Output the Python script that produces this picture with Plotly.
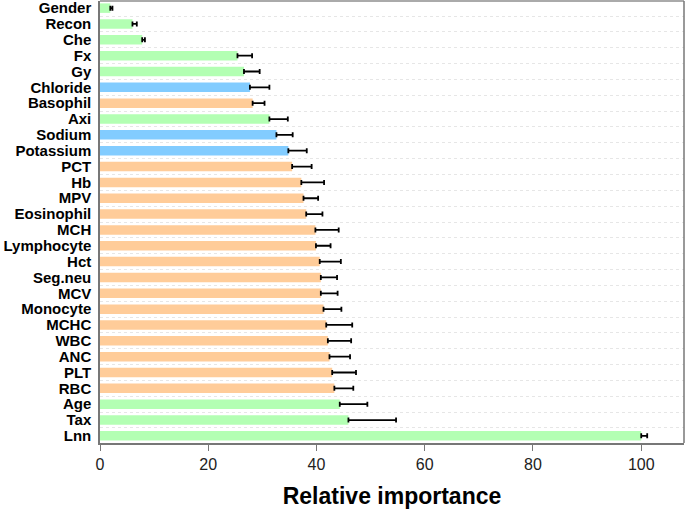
import plotly.graph_objects as go

features = ["Gender", "Recon", "Che", "Fx", "Gy", "Chloride", "Basophil", "Axi", "Sodium",
            "Potassium", "PCT", "Hb", "MPV", "Eosinophil", "MCH", "Lymphocyte", "Hct",
            "Seg.neu", "MCV", "Monocyte", "MCHC", "WBC", "ANC", "PLT", "RBC", "Age", "Tax", "Lnn"]
importance = [1.9, 6.0, 7.8, 25.4, 26.6, 27.7, 28.2, 31.3, 32.6,
              34.8, 35.5, 37.2, 37.6, 38.1, 39.8, 39.9, 40.6,
              40.8, 40.8, 41.3, 41.8, 42.1, 42.4, 42.9, 43.3, 44.3, 45.9, 100.0]
errors = [0.4, 0.8, 0.5, 2.7, 2.9, 3.6, 2.2, 3.4, 3.0,
          3.4, 3.6, 4.2, 2.7, 3.0, 4.3, 2.7, 3.9,
          3.0, 3.1, 3.3, 4.8, 4.3, 3.8, 4.4, 3.5, 5.1, 8.8, 1.1]
groups = ["clin", "clin", "clin", "clin", "clin", "elec", "blood", "clin", "elec",
          "elec", "blood", "blood", "blood", "blood", "blood", "blood", "blood",
          "blood", "blood", "blood", "blood", "blood", "blood", "blood", "blood", "clin", "clin", "clin"]
group_colors = {"clin": "#B3FFB3", "elec": "#82CCFF", "blood": "#FFCC99"}

n = len(features)
ypos = list(range(n))

fig = go.Figure()
fig.add_trace(go.Bar(
    x=importance, y=ypos, orientation="h",
    marker=dict(color=[group_colors[g] for g in groups], line=dict(width=0)),
    error_x=dict(type="data", array=errors, symmetric=False, arrayminus=[0]*n,
                 color="black", thickness=1.8, width=2.5),
    width=0.6,
))

fig.update_layout(
    width=685, height=510,
    margin=dict(l=100, r=1, t=1, b=67, autoexpand=False),
    plot_bgcolor="white", paper_bgcolor="white",
    showlegend=False,
    font=dict(family="Liberation Sans, Arial", color="black"),
    shapes=[
        dict(type="line", xref="paper", yref="paper", x0=0, x1=1, y0=1, y1=1,
             line=dict(color="#AAAAAA", width=2)),
        dict(type="line", xref="paper", yref="paper", x0=1, x1=1, y0=0, y1=1,
             line=dict(color="#777777", width=1.5)),
    ],
)
fig.update_xaxes(
    automargin=False,
    range=[0, 107.9], tickvals=[0, 20, 40, 60, 80, 100],
    showgrid=False, zeroline=False,
    showline=True, linecolor="#777777", linewidth=1.5,
    ticks="outside", ticklen=6, tickcolor="#777777",
    tickfont=dict(size=16, color="#222222"),
    title=dict(text="<b>Relative importance</b>", font=dict(size=23, color="black"), standoff=16),
)
fig.update_yaxes(
    automargin=False,
    range=[n - 0.55, -0.45],
    tickmode="array", tickvals=ypos, ticktext=["<b>%s</b>" % f for f in features],
    tickfont=dict(size=15, color="black"),
    ticklabeloverflow="allow",
    showgrid=False, zeroline=False,
    showline=True, linecolor="#777777", linewidth=1.5,
    ticks="", ticklabelstandoff=4,
    minor=dict(tick0=0.5, dtick=1, showgrid=True, gridcolor="#E6E6E6",
               griddash="dot", gridwidth=1, ticks=""),
)

fig.write_html("out.html", config={"displayModeBar": False},
               post_script="document.body.style.margin='0';document.body.style.overflow='hidden';")
